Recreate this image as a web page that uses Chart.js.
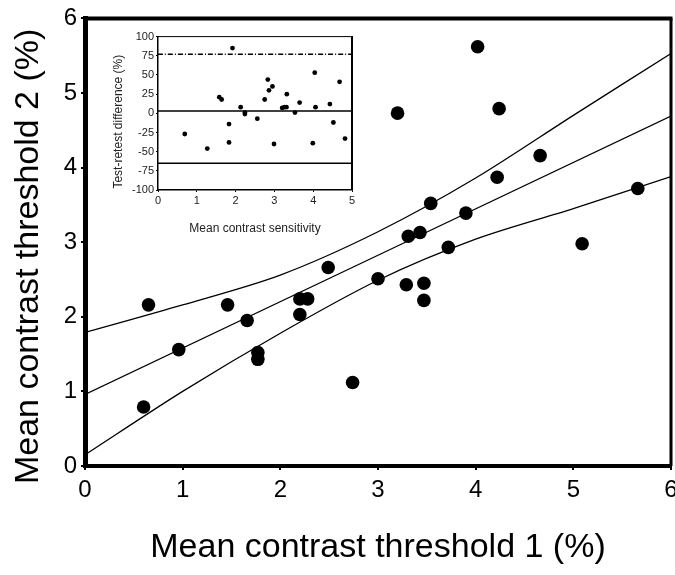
<!DOCTYPE html>
<html>
<head>
<meta charset="utf-8">
<script src="https://cdn.jsdelivr.net/npm/chart.js@4/dist/chart.umd.min.js"></script>
<style>
  html, body { margin: 0; padding: 0; background: #fff; overflow: hidden; }
  #wrap { position: relative; width: 675px; height: 575px; overflow: hidden; }
  #mainChart { position: absolute; left: 0; top: 0; }
  #insetChart { position: absolute; left: 95px; top: 28px; }
</style>
</head>
<body>
<div id="wrap">
  <canvas id="mainChart" width="690" height="575"></canvas>
  <canvas id="insetChart" width="270" height="215"></canvas>
</div>
<script>
// Main scatter: mean contrast threshold, test 1 vs test 2 (%)
const threshold1 = [0.60, 0.65, 0.96, 1.46, 1.66, 1.77, 1.77, 2.20, 2.28, 2.20, 2.49, 2.74, 3.00, 3.20,
  3.29, 3.31, 3.43, 3.47, 3.47, 3.54, 3.72, 3.90, 4.02, 4.22, 4.24, 4.66, 5.09, 5.66];
const threshold2 = [0.79, 2.16, 1.56, 2.16, 1.95, 1.52, 1.43, 2.24, 2.24, 2.03, 2.66, 1.12, 2.51, 4.73,
  2.43, 3.08, 3.13, 2.45, 2.22, 3.52, 2.93, 3.39, 5.62, 3.87, 4.79, 4.16, 2.98, 3.72];

// Regression line and its confidence band
const fitX = [0, 6];
const fitY = [0.96, 4.69];
const bandX = [0, 1, 2, 3, 4, 5, 6];
const upperBand = [1.79, 2.16, 2.56, 3.14, 3.86, 4.70, 5.53];
const lowerBand = [0.15, 1.00, 1.78, 2.49, 3.04, 3.45, 3.88];

const mainTicks = [0, 1, 2, 3, 4, 5, 6];

// Inset: Bland-Altman plot
const sensitivity = [0.69, 1.27, 1.58, 1.64, 1.92, 1.83, 1.83, 2.13, 2.24, 2.24, 2.56, 2.75, 2.83, 2.86,
  2.95, 2.99, 3.20, 3.26, 3.31, 3.32, 3.53, 3.65, 3.99, 4.04, 4.06, 4.43, 4.52, 4.68, 4.82];
const difference = [-27, -46, 21, 18, 85, -14, -38, 8, 1, -1, -7, 18, 44, 30,
  35, -40, 7, 8, 8, 25, 1, 14, -39, 53, 8, 12, -12, 41, -33];
const limitX = [0, 5];
const upperLimit = 77;
const meanDifference = 3;
const lowerLimit = -65;

const insetXTicks = [0, 1, 2, 3, 4, 5];
const insetYTicks = [-100, -75, -50, -25, 0, 25, 50, 75, 100];

const FONT = "'Liberation Sans', Arial, Helvetica, sans-serif";

const toPoints = (xs, ys) => xs.map((x, i) => ({ x, y: ys[i] }));
const flat = (xs, v) => xs.map((x) => ({ x, y: v }));

// Draws top and right frame lines of the plot box
const framePlugin = {
  id: "frame",
  afterDraw(chart, args, opts) {
    const { ctx, chartArea: a } = chart;
    ctx.save();
    ctx.strokeStyle = "#000";
    ctx.lineWidth = opts.top;
    ctx.beginPath();
    ctx.moveTo(a.left, a.top);
    ctx.lineTo(a.right + opts.right / 2, a.top);
    ctx.stroke();
    ctx.lineWidth = opts.right;
    ctx.beginPath();
    ctx.moveTo(a.right, a.top);
    ctx.lineTo(a.right, a.bottom);
    ctx.stroke();
    ctx.restore();
  },
};

const lineSet = (data, width, dash) => ({
  type: "line",
  data,
  borderColor: "#000",
  borderWidth: width,
  borderDash: dash || [],
  pointRadius: 0,
  fill: false,
  tension: 0.3,
});

new Chart(document.getElementById("mainChart"), {
  type: "scatter",
  data: {
    datasets: [
      lineSet(toPoints(bandX, upperBand), 1.3),
      lineSet(toPoints(fitX, fitY), 1.3),
      lineSet(toPoints(bandX, lowerBand), 1.3),
      {
        data: toPoints(threshold1, threshold2),
        pointRadius: 6.8,
        pointBackgroundColor: "#000",
        pointBorderWidth: 0,
      },
    ],
  },
  options: {
    responsive: false,
    animation: false,
    events: [],
    layout: { padding: { top: 15, right: 19, left: 0, bottom: 0 } },
    plugins: {
      legend: { display: false },
      tooltip: { enabled: false },
      frame: { top: 4, right: 3 },
    },
    scales: {
      x: {
        type: "linear",
        min: 0,
        max: 6,
        afterBuildTicks: (s) => { s.ticks = mainTicks.map((v) => ({ value: v })); },
        afterFit: (s) => { s.height = 109; },
        border: { color: "#000", width: 4 },
        grid: { drawOnChartArea: false, drawTicks: true, tickLength: 4, color: "#000", lineWidth: 2 },
        ticks: { color: "#000", padding: 6, font: { family: FONT, size: 24 }, maxRotation: 0 },
        title: {
          display: true,
          text: "Mean contrast threshold 1 (%)",
          color: "#000",
          font: { family: FONT, size: 34 },
          padding: { top: 0, bottom: 7 },
        },
      },
      y: {
        type: "linear",
        min: 0,
        max: 6,
        afterBuildTicks: (s) => { s.ticks = mainTicks.map((v) => ({ value: v })); },
        afterFit: (s) => { s.width = 85; },
        border: { color: "#000", width: 5 },
        grid: { drawOnChartArea: false, drawTicks: true, tickLength: 4, color: "#000", lineWidth: 2 },
        ticks: { color: "#000", padding: 4, font: { family: FONT, size: 24 } },
        title: {
          display: true,
          text: "Mean contrast threshold 2 (%)   ",
          color: "#000",
          font: { family: FONT, size: 34 },
          padding: { top: 8, bottom: 0 },
        },
      },
    },
  },
  plugins: [framePlugin],
});

new Chart(document.getElementById("insetChart"), {
  type: "scatter",
  data: {
    datasets: [
      lineSet(flat(limitX, upperLimit), 1.3, [5, 2, 1, 2]),
      lineSet(flat(limitX, meanDifference), 1.5),
      lineSet(flat(limitX, lowerLimit), 1.5),
      {
        data: toPoints(sensitivity, difference),
        pointRadius: 2.4,
        pointBackgroundColor: "#000",
        pointBorderWidth: 0,
      },
    ],
  },
  options: {
    responsive: false,
    animation: false,
    events: [],
    layout: { padding: { top: 8, right: 13, left: 0, bottom: 0 } },
    plugins: {
      legend: { display: false },
      tooltip: { enabled: false },
      frame: { top: 1, right: 2 },
    },
    scales: {
      x: {
        type: "linear",
        min: 0,
        max: 5,
        afterBuildTicks: (s) => { s.ticks = insetXTicks.map((v) => ({ value: v })); },
        afterFit: (s) => { s.height = 53; },
        border: { color: "#000", width: 1.5 },
        grid: { drawOnChartArea: false, drawTicks: true, tickLength: 2, color: "#000", lineWidth: 1 },
        ticks: { color: "#222", padding: 2, font: { family: FONT, size: 11 }, maxRotation: 0 },
        title: {
          display: true,
          text: "Mean contrast sensitivity",
          color: "#222",
          font: { family: FONT, size: 12 },
          padding: { top: 0, bottom: 7 },
        },
      },
      y: {
        type: "linear",
        min: -100,
        max: 100,
        afterBuildTicks: (s) => { s.ticks = insetYTicks.map((v) => ({ value: v })); },
        afterFit: (s) => { s.width = 63; },
        border: { color: "#000", width: 1.5 },
        grid: { drawOnChartArea: false, drawTicks: true, tickLength: 2, color: "#000", lineWidth: 1 },
        ticks: { color: "#222", padding: 2, font: { family: FONT, size: 11 } },
        title: {
          display: true,
          text: "Test-retest difference (%)     ",
          color: "#222",
          font: { family: FONT, size: 12 },
          padding: { top: 16, bottom: 0 },
        },
      },
    },
  },
  plugins: [framePlugin],
});
</script>
</body>
</html>
